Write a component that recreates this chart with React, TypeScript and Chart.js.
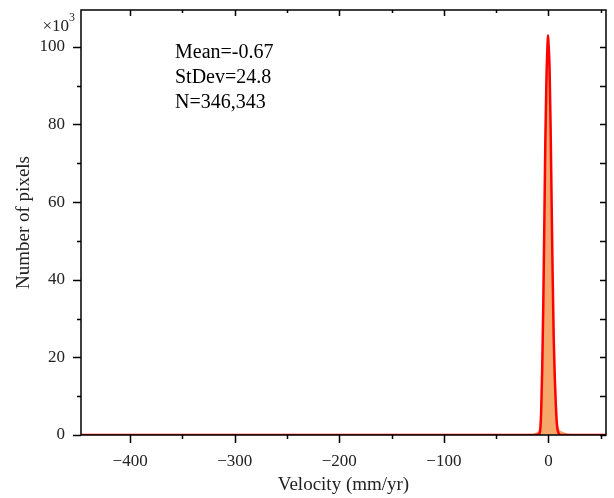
import { useEffect, useRef } from 'react';
import { Chart, registerables } from 'chart.js';

Chart.register(...registerables);

// ---- data (values in thousands of pixels) ----
const HIST_CENTERS = [-15, -14, -13, -12, -11, -10, -9, -8, -7, -6, -5, -4, -3, -2, -1, 0, 1, 2, 3, 4, 5, 6, 7, 8, 9, 10, 11, 12, 13, 14, 15, 16, 17, 18, 19, 20, 21];
const HIST_COUNTS = [0.3, 0.4, 0.5, 0.6, 0.8, 1.0, 1.5, 3, 7, 16, 33, 54, 75, 91, 101, 100, 93, 79, 60, 41, 25, 14, 8, 4, 2, 1.5, 1.2, 1.0, 0.9, 0.8, 0.7, 0.6, 0.5, 0.4, 0.3, 0.3, 0];

const FIT_X = [-447, -12, -9, -8, -7, -6, -5, -4, -3, -2, -1, -0.5, 0, 1, 2, 3, 4, 5, 6, 7, 8, 9, 10, 12, 55];
const FIT_Y = [0, 0, 0.3, 1, 6, 17, 33, 54, 76, 91, 100, 103, 101, 95, 80, 60, 41, 25, 15, 8, 3, 1, 0.3, 0, 0];

const X_RANGE = [-447, 55];
const Y_RANGE = [0, 109.5];
const X_LABEL_TICKS = [-400, -300, -200, -100, 0];
const X_ALL_TICKS = [-400, -350, -300, -250, -200, -150, -100, -50, 0, 50];
const Y_LABEL_TICKS = [0, 20, 40, 60, 80, 100];
const Y_ALL_TICKS = [0, 10, 20, 30, 40, 50, 60, 70, 80, 90, 100];
const STATS_LINES = ['Mean=-0.67', 'StDev=24.8', 'N=346,343'];
const X_TITLE = 'Velocity (mm/yr)';
const Y_TITLE = 'Number of pixels';

const FONT = "'Liberation Serif', 'Times New Roman', serif";
const TEXT_COLOR = '#222';

const fmt = (v: number) => (v < 0 ? '\u2212' + Math.abs(v) : String(v));

const framePlugin = {
  id: 'frameTicks',
  afterDatasetsDraw(chart: any) {
    const { ctx, chartArea: a, scales } = chart;
    const xs = scales.x;
    const ys = scales.y;
    ctx.save();
    ctx.strokeStyle = '#000';
    ctx.lineWidth = 1.5;
    ctx.strokeRect(a.left, a.top, a.right - a.left, a.bottom - a.top);
    ctx.beginPath();
    for (const v of X_ALL_TICKS) {
      const px = Math.round(xs.getPixelForValue(v)) + 0.5;
      const major = v % 100 === 0;
      ctx.moveTo(px, a.bottom);
      ctx.lineTo(px, a.bottom + (major ? 8 : 4));
      ctx.moveTo(px, a.top);
      ctx.lineTo(px, a.top + (major ? 6 : 3));
    }
    for (const v of Y_ALL_TICKS) {
      const py = Math.round(ys.getPixelForValue(v)) + 0.5;
      const major = v % 20 === 0;
      ctx.moveTo(a.left, py);
      ctx.lineTo(a.left - (major ? 8 : 4), py);
      ctx.moveTo(a.right, py);
      ctx.lineTo(a.right - 6, py);
    }
    ctx.stroke();

    // stats text
    ctx.fillStyle = '#000';
    ctx.font = `20px ${FONT}`;
    ctx.textAlign = 'left';
    ctx.textBaseline = 'alphabetic';
    const tx = a.left + 94;
    STATS_LINES.forEach((s, i) => {
      ctx.fillText(s, tx, a.top + 48 + i * 25);
    });

    // x10^3 multiplier
    ctx.fillStyle = TEXT_COLOR;
    ctx.font = `17px ${FONT}`;
    ctx.textAlign = 'right';
    ctx.fillText('\u00d710', a.left - 12, a.top + 21);
    ctx.font = `12px ${FONT}`;
    ctx.textAlign = 'left';
    ctx.fillText('3', a.left - 12, a.top + 11);

    // axis titles
    ctx.fillStyle = TEXT_COLOR;
    ctx.font = `19px ${FONT}`;
    ctx.textAlign = 'center';
    ctx.textBaseline = 'middle';
    ctx.fillText(X_TITLE, (a.left + a.right) / 2, 485);
    ctx.save();
    ctx.translate(24, (a.top + a.bottom) / 2);
    ctx.rotate(-Math.PI / 2);
    ctx.fillText(Y_TITLE, 0, 0);
    ctx.restore();
    ctx.restore();
  },
};

export default function App() {
  const ref = useRef<HTMLCanvasElement | null>(null);
  useEffect(() => {
    if (!ref.current) return;
    const hist = HIST_CENTERS.map((x, i) => ({ x, y: HIST_COUNTS[i] }));
    const fit = FIT_X.map((x, i) => ({ x, y: FIT_Y[i] }));
    const chart = new Chart(ref.current, {
      type: 'line',
      data: {
        datasets: [
          {
            data: fit,
            borderColor: '#FF0000',
            borderWidth: 2.5,
            pointRadius: 0,
            fill: false,
            cubicInterpolationMode: 'monotone',
            order: 0,
          },
          {
            data: hist,
            borderWidth: 0,
            borderColor: 'rgba(0,0,0,0)',
            backgroundColor: '#F5A86A',
            pointRadius: 0,
            stepped: 'middle',
            fill: 'origin',
            order: 1,
          },
        ],
      },
      options: {
        responsive: false,
        animation: false,
        events: [],
        layout: { padding: { top: 10, right: 8, left: 0, bottom: 0 } },
        plugins: { legend: { display: false }, tooltip: { enabled: false } },
        scales: {
          x: {
            type: 'linear',
            min: X_RANGE[0],
            max: X_RANGE[1],
            afterBuildTicks: (s: any) => {
              s.ticks = X_LABEL_TICKS.map((v) => ({ value: v }));
            },
            afterFit: (s: any) => {
              s.height = 63;
              s.paddingLeft = 0;
              s.paddingRight = 0;
              s.paddingTop = 0;
              s.paddingBottom = 0;
            },
            grid: { color: 'rgba(0,0,0,0)', drawOnChartArea: false, tickLength: 8 },
            border: { display: false },
            ticks: {
              padding: 8,
              maxRotation: 0,
              autoSkip: false,
              color: TEXT_COLOR,
              font: { family: FONT, size: 17 },
              callback: (v: any) => fmt(Number(v)),
            },
          },
          y: {
            type: 'linear',
            min: Y_RANGE[0],
            max: Y_RANGE[1],
            afterBuildTicks: (s: any) => {
              s.ticks = Y_LABEL_TICKS.map((v) => ({ value: v }));
            },
            afterFit: (s: any) => {
              s.width = 81;
              s.paddingLeft = 0;
              s.paddingRight = 0;
              s.paddingTop = 0;
              s.paddingBottom = 0;
            },
            grid: { color: 'rgba(0,0,0,0)', drawOnChartArea: false, tickLength: 8 },
            border: { display: false },
            ticks: {
              padding: 8,
              autoSkip: false,
              color: TEXT_COLOR,
              font: { family: FONT, size: 17 },
              callback: (v: any) => String(v),
            },
          },
        },
      },
      plugins: [framePlugin],
    });
    return () => chart.destroy();
  }, []);
  return (
    <div style={{ position: 'fixed', left: 0, top: 0, width: 614, height: 498, background: '#fff' }}>
      <canvas ref={ref} width={614} height={498} style={{ display: 'block' }} />
    </div>
  );
}
